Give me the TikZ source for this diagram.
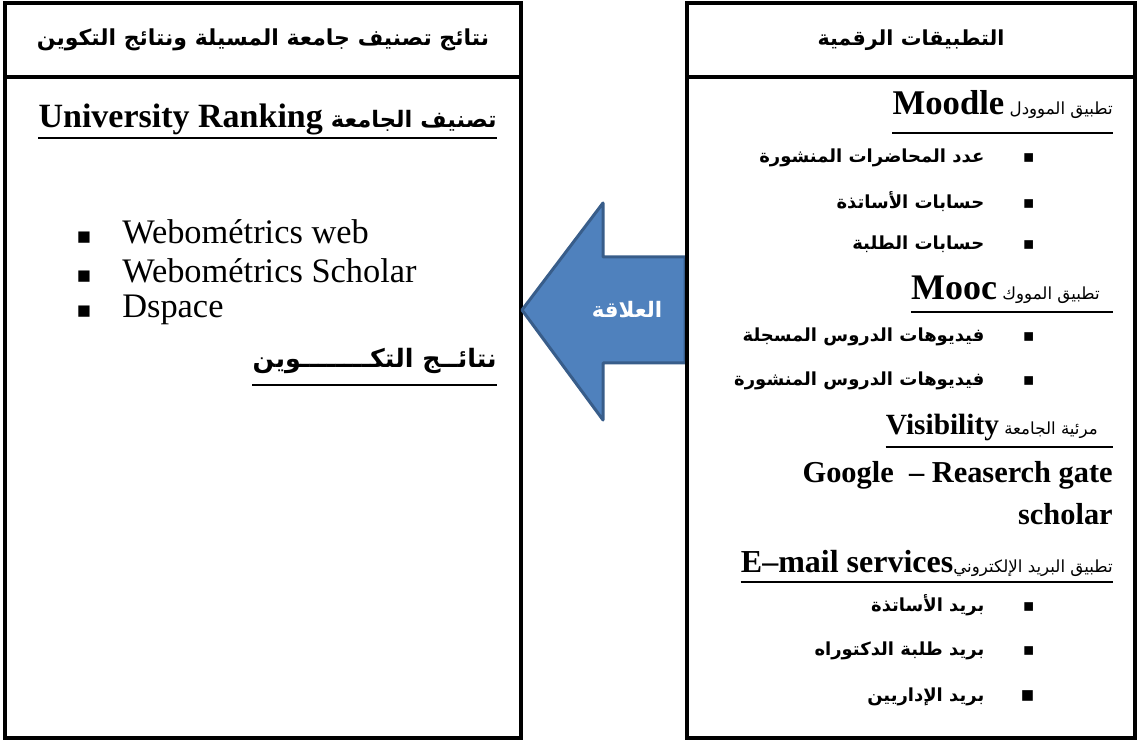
\documentclass[tikz,border=0pt]{standalone}
\usepackage{fontspec}
\usepackage{xcolor}
\setmainfont{Liberation Serif}
\newfontfamily\arabicfont[Script=Arabic]{DejaVu Sans}
\newfontfamily\symfont{DejaVu Sans}
\TeXXeTstate=1
\usetikzlibrary{positioning}
\definecolor{arrowfill}{HTML}{4F81BD}
\definecolor{arrowline}{HTML}{385D8A}
\newcommand{\ar}[1]{{\arabicfont\beginR #1\endR}}
\newcommand{\sqb}[1]{{\symfont\fontsize{#1}{#1}\selectfont ▪}}
\newcommand{\lat}[2]{\beginL{\rmfamily\bfseries\fontsize{#1}{#1}\selectfont #2}\endL}

\begin{document}
\begin{tikzpicture}[x=0.75pt, y=-0.75pt,
  panel/.style={rectangle, draw, line width=3pt, inner sep=0pt},
  heading/.style={anchor=base east, inner sep=0pt, font=\fontsize{12.5}{15}\selectfont},
  litem/.style={anchor=west, inner sep=0pt, font=\fontsize{25.8}{30}\selectfont},
  ritem/.style={anchor=east, inner sep=0pt, font=\bfseries\fontsize{13.5}{16}\selectfont},
  uline/.style={line width=1.5pt}]
\useasboundingbox (0,0) rectangle (1140,741);

% Left panel
\node[panel, minimum width=387pt, minimum height=55.5pt, font=\bfseries\fontsize{16.5}{20}\selectfont] (lhead) at (263,40) {\ar{نتائج تصنيف جامعة المسيلة ونتائج التكوين}};
\node[panel, minimum width=387pt, minimum height=495.75pt] (lbody) at (263,407.5) {};
\node[heading, font=\bfseries\fontsize{17}{20}\selectfont] (lrank) at (497,128) {\ar{تصنيف الجامعة \lat{25.5}{University Ranking}}};
\draw[uline] ([yshift=-7.5pt]lrank.base west) -- ([yshift=-7.5pt]lrank.base east);
\node[litem] (web1) at (76,232) {\sqb{17}\hspace{23pt}Webométrics web};
\node[litem] (web2) at (76,271) {\sqb{17}\hspace{23pt}Webométrics Scholar};
\node[litem] (web3) at (76,310) {\sqb{17}\hspace{23pt}Dspace};
\node[heading, font=\bfseries\fontsize{19}{22}\selectfont] (train) at (497,368) {\ar{نتائــج التكــــــــوين}};
\draw[uline] ([yshift=-13pt]train.base west) -- ([yshift=-13pt]train.base east);

% Relation arrow
\draw[fill=arrowfill, draw=arrowline, line width=2.25pt, line join=round]
  (522,310) -- (603,203) -- (603,257) -- (685,257) -- (685,363) -- (603,363) -- (603,420) -- cycle;
\node[font=\bfseries\fontsize{16}{19}\selectfont, text=white] (rellab) at (627,310) {\ar{العلاقة}};

% Right panel
\node[panel, minimum width=336pt, minimum height=55.5pt, font=\bfseries\fontsize{15.5}{19}\selectfont] (rhead) at (911,40) {\ar{التطبيقات الرقمية}};
\node[panel, minimum width=336pt, minimum height=495.75pt] (rbody) at (911,407.5) {};
\node[heading] (moodle) at (1113,115) {\ar{تطبيق الموودل \lat{26}{Moodle}}};
\draw[uline] ([yshift=-13.5pt]moodle.base west) -- ([yshift=-13.5pt]moodle.base east);
\node[ritem] (moodle1) at (1035,158) {\ar{\sqb{13}\hspace{29pt}عدد المحاضرات المنشورة}};
\node[ritem] (moodle2) at (1035,202) {\ar{\sqb{13}\hspace{29pt}حسابات الأساتذة}};
\node[ritem] (moodle3) at (1035,244) {\ar{\sqb{13}\hspace{29pt}حسابات الطلبة}};
\node[heading] (mooc) at (1100,300) {\ar{تطبيق المووك \lat{27}{Mooc}}};
\draw[uline] ([yshift=-9pt]mooc.base west) -- ([yshift=-9pt]mooc.base east) -- ++(10pt,0);
\node[ritem] (mooc1) at (1035,337) {\ar{\sqb{13}\hspace{29pt}فيديوهات الدروس المسجلة}};
\node[ritem] (mooc2) at (1035,381) {\ar{\sqb{13}\hspace{29pt}فيديوهات الدروس المنشورة}};
\node[heading] (visib) at (1098,435) {\ar{مرئية الجامعة \lat{22}{Visibility}}};
\draw[uline] ([yshift=-9pt]visib.base west) -- ([yshift=-9pt]visib.base east) -- ++(11pt,0);
\node[heading, font=\bfseries\fontsize{22.8}{26}\selectfont] (google) at (1113,483) {Google~ – Reaserch gate};
\node[heading, font=\bfseries\fontsize{22.8}{26}\selectfont] (scholar) at (1113,525) {scholar};
\node[heading] (email) at (1113,573) {\ar{تطبيق البريد الإلكتروني\lat{24}{E–mail services}}};
\draw[uline] ([yshift=-7pt]email.base west) -- ([yshift=-7pt]email.base east);
\node[ritem] (email1) at (1035,605) {\ar{\sqb{13}\hspace{29pt}بريد الأساتذة}};
\node[ritem] (email2) at (1035,651) {\ar{\sqb{13}\hspace{29pt}بريد طلبة الدكتوراه}};
\node[ritem] (email3) at (1035,697) {\ar{\sqb{16}\hspace{27pt}بريد الإداريين}};
\end{tikzpicture}
\end{document}
